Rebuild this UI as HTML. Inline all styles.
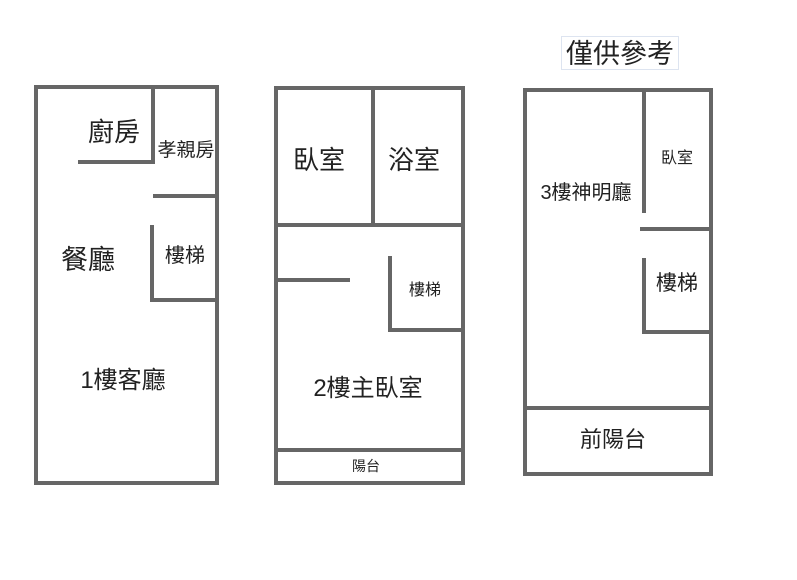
<!DOCTYPE html>
<html><head><meta charset="utf-8"><style>
body{margin:0;background:#fff;width:797px;height:575px;overflow:hidden}
svg text{font-family:"Liberation Sans","Noto Sans CJK TC",sans-serif;fill:#222}
</style></head><body>
<svg width="797" height="575" viewBox="0 0 797 575">
<g fill="none" stroke="#666" stroke-width="4">
<rect x="36" y="87" width="181" height="396"/>
<polyline points="78,162 153,162 153,87"/>
<line x1="153" y1="196" x2="217" y2="196"/>
<polyline points="152,225 152,300 217,300"/>
<rect x="276" y="88" width="187" height="395"/>
<line x1="373" y1="88" x2="373" y2="225"/>
<line x1="276" y1="225" x2="463" y2="225"/>
<line x1="276" y1="280" x2="350" y2="280"/>
<polyline points="390,256 390,330 463,330"/>
<line x1="276" y1="450" x2="463" y2="450"/>
<rect x="525" y="90" width="186" height="384"/>
<line x1="644" y1="90" x2="644" y2="213"/>
<line x1="640" y1="229" x2="711" y2="229"/>
<polyline points="644,258 644,332 711,332"/>
<line x1="525" y1="408" x2="711" y2="408"/>
</g>
<rect x="561.5" y="36.5" width="117" height="33" fill="#fff" stroke="#dde4f0" stroke-width="1"/>
<text x="620" y="63" font-size="27" text-anchor="middle">僅供參考</text>
<text x="114" y="141" font-size="26" text-anchor="middle">廚房</text>
<text x="186" y="156" font-size="19" text-anchor="middle">孝親房</text>
<text x="88" y="269" font-size="27" text-anchor="middle">餐廳</text>
<text x="185" y="262" font-size="20" text-anchor="middle">樓梯</text>
<text x="123" y="388" font-size="24" text-anchor="middle">1樓客廳</text>
<text x="319" y="169" font-size="26" text-anchor="middle">臥室</text>
<text x="414" y="169" font-size="26" text-anchor="middle">浴室</text>
<text x="425" y="295" font-size="16" text-anchor="middle">樓梯</text>
<text x="368" y="396" font-size="24" text-anchor="middle">2樓主臥室</text>
<text x="366" y="471" font-size="14" text-anchor="middle">陽台</text>
<text x="586" y="199" font-size="20" text-anchor="middle">3樓神明廳</text>
<text x="677" y="163" font-size="16" text-anchor="middle">臥室</text>
<text x="677" y="290" font-size="21" text-anchor="middle">樓梯</text>
<text x="613" y="447" font-size="22" text-anchor="middle">前陽台</text>
</svg>
</body></html>
